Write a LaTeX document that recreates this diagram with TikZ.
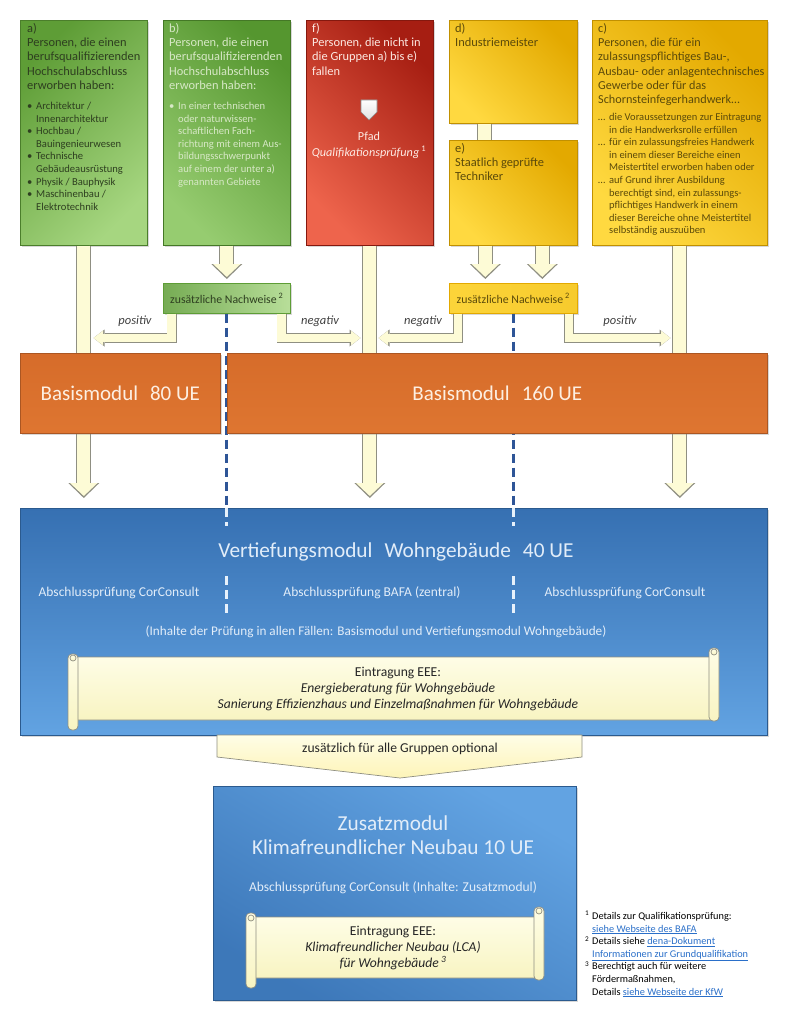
\documentclass[tikz,border=0pt]{standalone}
\usepackage{fontspec}
\setmainfont{Carlito}
\usepackage{tikz}
\usetikzlibrary{arrows.meta,positioning,calc,shadows}

\definecolor{grnA1}{HTML}{5E9D36}
\definecolor{grnA2}{HTML}{A6D680}
\definecolor{grnB1}{HTML}{55962F}
\definecolor{grnB2}{HTML}{96CC70}
\definecolor{redD}{HTML}{A61E12}
\definecolor{redL}{HTML}{EE644C}
\definecolor{yelD}{HTML}{E3A900}
\definecolor{yelL}{HTML}{FFD940}
\definecolor{orgD}{HTML}{D66C2A}
\definecolor{orgM}{HTML}{FF9C4C}
\definecolor{bluD}{HTML}{3670B2}
\definecolor{bluL}{HTML}{62A3E2}
\definecolor{cream}{HTML}{FDFBD6}
\definecolor{bargray}{HTML}{8F8F82}
\definecolor{sepblue}{HTML}{2E5597}
\definecolor{txtgrn}{HTML}{2E3F20}
\definecolor{txtpale}{HTML}{D7E8C6}
\definecolor{txtred}{HTML}{FDE9E2}
\definecolor{txtyel}{HTML}{5B4A0A}
\definecolor{txtorg}{HTML}{FDEFE2}
\definecolor{txtblu}{HTML}{E2EDF9}
\definecolor{lnkblue}{HTML}{2A6FC9}
\definecolor{scrollT}{HTML}{FEFDE6}
\definecolor{scrollB}{HTML}{F8F4C2}

\newcommand{\lbul}{\makebox[9pt][l]{\textbullet}}
\newcommand{\lind}{\hspace*{9pt}}
\newcommand{\ldot}{\makebox[11pt][l]{…}}
\newcommand{\lindc}{\hspace*{11pt}}
\newcommand{\fnm}[1]{\makebox[7pt][l]{\textsuperscript{#1}}}
\newcommand{\fni}{\hspace*{7pt}}
\newcommand{\lnk}[1]{{\color{lnkblue}\underline{#1}}}

\tikzset{
  topbox/.style={draw=#1, line width=0.6pt, inner sep=0pt, anchor=north west,
    drop shadow={shadow xshift=1.5pt, shadow yshift=-1.5pt, opacity=0.3}},
  greenA/.style={topbox=grnA1!80!black, top color=grnA2, bottom color=grnA1, shading angle=225},
  greenB/.style={topbox=grnB1!80!black, top color=grnB2, bottom color=grnB1, shading angle=135},
  redbox/.style={topbox=redD!80!black, top color=redL, bottom color=redD, shading angle=135},
  yelbox/.style={topbox=yelD!85!black, top color=yelL, bottom color=yelD, shading angle=135},
  orgbox/.style={topbox=orgD!80!black, top color=orgD, middle color=orgM, bottom color=orgD!80!orgM,
    text=txtorg, font=\fontsize{21}{25}\selectfont},
  blubox/.style={topbox=bluD!80!black, top color=bluD, bottom color=bluL},
  nwbox/.style={topbox=#1, font=\fontsize{11.8}{13}\selectfont},
  ttl/.style={inner sep=0pt, anchor=north west, align=left, font=\fontsize{12.4}{14.3}\selectfont},
  lst/.style={inner sep=0pt, anchor=north west, align=left, font=\fontsize{10.6}{12.6}\selectfont},
  lbl/.style={inner sep=0pt, text=black!75, font=\fontsize{12.5}{14}\selectfont\itshape},
  bltxt/.style={inner sep=0pt, text=txtblu, align=center, font=\fontsize{13.5}{16}\selectfont},
  scrolltxt/.style={inner sep=0pt, text=black!85, align=center, font=\fontsize{13.6}{16}\selectfont},
  scrollsty/.style={draw=bargray, line width=0.7pt, top color=scrollT, bottom color=scrollB},
  fn/.style={inner sep=0pt, anchor=north west, align=left, font=\fontsize{10.3}{12.6}\selectfont},
  sep/.style={draw=sepblue, line width=3pt, dash pattern=on 9pt off 5pt},
  sepin/.style={sep, draw=white!85!bluL},
  fatbar/.style={draw=cream, line width=13pt, preaction={draw=bargray, line width=15pt}},
  fatdown/.style={draw=cream, line width=13pt, shorten >=#1+2pt,
    -{Triangle[width=27.5pt,length=13pt,line width=0pt]},
    preaction={draw=bargray, line width=15pt, shorten >=#1,
      -{Triangle[width=31pt,length=15pt,line width=0pt]}}},
  fatside/.style={draw=cream, line width=8.5pt, shorten >=1.5pt,
    -{Triangle[width=14.5pt,length=9.5pt,line width=0pt]},
    preaction={draw=bargray, line width=10pt,
      -{Triangle[width=17pt,length=11pt,line width=0pt]}}},
}

\begin{document}
\begin{tikzpicture}[x=1pt, y=-1pt]
    \useasboundingbox (0,0) rectangle (789,1024);
    \fill[white] (0,0) rectangle (789,1024);

    % Groups a) to f)
    \node[greenA, minimum width=127pt, minimum height=225pt] (a) at (20,20) {};
    \node[greenB, minimum width=127pt, minimum height=225pt] (b) at (163,20) {};
    \node[redbox, minimum width=127pt, minimum height=225pt] (f) at (306,20) {};
    \node[yelbox, minimum width=128pt, minimum height=103pt] (d) at (449,20) {};
    \node[yelbox, minimum width=128pt, minimum height=105pt] (e) at (449,140) {};
    \node[yelbox, minimum width=175pt, minimum height=225pt] (c) at (592,20) {};

    % Additional proofs
    \node[nwbox=grnA1, left color=grnA1!85, right color=grnA2!80!white, text=txtgrn,
        minimum width=127pt, minimum height=30pt] (nwg) at (163,283) {zusätzliche Nachweise\,\textsuperscript{2}};
    \node[nwbox=yelD, left color=yelL!90!yelD, right color=yelL!70!yelD, text=txtyel,
        minimum width=128pt, minimum height=30pt] (nwy) at (449,283) {zusätzliche Nachweise\,\textsuperscript{2}};

    % Vertiefungsmodul and Zusatzmodul
    \node[blubox, minimum width=747pt, minimum height=227pt] (vm) at (20,508) {};
    \node[topbox=bluD!80!black, top color=bluL, bottom color=bluD!85!bluL, shading angle=-30,
        minimum width=363pt, minimum height=214pt] (zm) at (213,786) {};

    % Separators
    \draw[sep] (nwg.south) -- (nwg.south |- vm.north);
    \draw[sep] (nwy.south) -- (nwy.south |- vm.north);
    \draw[sepin] (nwg.south |- vm.north) -- ++(0,18);
    \draw[sepin] (nwy.south |- vm.north) -- ++(0,18);
    \draw[sepin] (nwg.south |- 0,576) -- (nwg.south |- 0,613);
    \draw[sepin] (nwy.south |- 0,576) -- (nwy.south |- 0,613);

    % Paths
    \draw[fatbar] ([xshift=-29pt]d.south) -- ([xshift=-29pt]e.north);
    \draw[fatdown=10pt] (a.south) -- (a.south |- vm.north);
    \draw[fatdown=10pt] (f.south) -- (f.south |- vm.north);
    \draw[fatdown=10pt] (c.south) -- (c.south |- vm.north);
    \draw[fatdown=4pt] (b.south) -- (nwg.north);
    \draw[fatdown=4pt] ([xshift=-28pt]e.south) -- ([xshift=-28pt]nwy.north);
    \draw[fatdown=4pt] ([xshift=29pt]e.south) -- ([xshift=29pt]nwy.north);

    \coordinate (posa) at (92,338);
    \coordinate (negf) at (362,338);
    \coordinate (negfr) at (377,338);
    \coordinate (posc) at (672,338);
    \draw[fatside] ([xshift=8.5pt]nwg.south west) |- (posa);
    \draw[fatside] ([xshift=-9pt]nwg.south east) |- (negf);
    \draw[fatside] ([xshift=9pt]nwy.south west) |- (negfr);
    \draw[fatside] ([xshift=-8.5pt]nwy.south east) |- (posc);
    \node[lbl] (lpa) at (135,321) {positiv};
    \node[lbl] (lnf) at (320,321) {negativ};
    \node[lbl] (lnfr) at (423,321) {negativ};
    \node[lbl] (lpc) at (620,321) {positiv};

    % Basismodule
    \node[orgbox, minimum width=200pt, minimum height=80pt] (bm80) at (20,353) {Basismodul\hspace{12pt}80 UE};
    \node[orgbox, minimum width=540pt, minimum height=80pt] (bm160) at (227,353) {Basismodul\hspace{12pt}160 UE};

    % Texts of the groups
    \node[ttl, text=txtgrn] (atxt) at (27,23) {a)\\Personen, die einen\\berufsqualifizierenden\\Hochschulabschluss\\erworben haben:};
    \node[lst, text=txtgrn] (alst) at (27,102) {\lbul Architektur /\\\lind Innenarchitektur\\\lbul Hochbau /\\\lind Bauingenieurwesen\\\lbul Technische\\\lind Gebäudeausrüstung\\\lbul Physik / Bauphysik\\\lbul Maschinenbau /\\\lind Elektrotechnik};
    \node[ttl, text=txtpale] (btxt) at (169,23) {b)\\Personen, die einen\\berufsqualifizierenden\\Hochschulabschluss\\erworben haben:};
    \node[lst, text=txtpale] (blst) at (169,102) {\lbul In einer technischen\\\lind oder naturwissen-\\\lind schaftlichen Fach-\\\lind richtung mit einem Aus-\\\lind bildungsschwerpunkt\\\lind auf einem der unter a)\\\lind genannten Gebiete};
    \node[ttl, text=txtred] (ftxt) at (312,23) {f)\\Personen, die nicht in\\die Gruppen a) bis e)\\fallen};
    \draw[draw=black!45, line width=0.6pt, top color=white, bottom color=black!12]
        (361,100) -- (377,100) -- (377,112) -- (369,120) -- (361,112) -- cycle;
    \node[inner sep=0pt, text=txtred, align=center, font=\fontsize{12.2}{16}\selectfont] (pfad) at (369,145)
        {Pfad\\\textit{Qualifikationsprüfung}\,\textsuperscript{1}};
    \node[ttl, text=txtyel] (dtxt) at (455,23) {d)\\Industriemeister};
    \node[ttl, text=txtyel] (etxt) at (455,143) {e)\\Staatlich geprüfte\\Techniker};
    \node[ttl, text=txtyel, font=\fontsize{12.2}{14.3}\selectfont] (ctxt) at (598,23) {c)\\Personen, die für ein\\zulassungspflichtiges Bau-,\\Ausbau- oder anlagentechnisches\\Gewerbe oder für das\\Schornsteinfegerhandwerk…};
    \node[lst, text=txtyel, font=\fontsize{10.5}{12.6}\selectfont] (clst) at (598,113) {\ldot die Voraussetzungen zur Eintragung\\\lindc in die Handwerksrolle erfüllen\\\ldot für ein zulassungsfreies Handwerk\\\lindc in einem dieser Bereiche einen\\\lindc Meistertitel erworben haben oder\\\ldot auf Grund ihrer Ausbildung\\\lindc berechtigt sind, ein zulassungs-\\\lindc pflichtiges Handwerk in einem\\\lindc dieser Bereiche ohne Meistertitel\\\lindc selbständig auszuüben};

    % Vertiefungsmodul texts
    \node[bltxt, font=\fontsize{21.3}{25}\selectfont] (vmt) at (396,552) {Vertiefungsmodul\hspace{12pt}Wohngebäude\hspace{12pt}40 UE};
    \node[bltxt] (ex1) at (119,593) {Abschlussprüfung CorConsult};
    \node[bltxt] (ex2) at (372,593) {Abschlussprüfung BAFA (zentral)};
    \node[bltxt] (ex3) at (625,593) {Abschlussprüfung CorConsult};
    \node[bltxt, font=\fontsize{13.2}{16}\selectfont] (inh) at (376,632) {(Inhalte der Prüfung in allen Fällen: Basismodul und Vertiefungsmodul Wohngebäude)};

    \draw[scrollsty, rounded corners=3pt] (73,657) rectangle (714,720);
    \draw[scrollsty, rounded corners=4pt] (68,654) rectangle (78,730);
    \draw[scrollsty, rounded corners=4pt] (709,648) rectangle (719,721);
    \draw[scrollsty] (73,658) circle (3);
    \draw[scrollsty] (714,652) circle (3);
    \node[scrolltxt] (eee1) at (398,689) {Eintragung EEE:\\\textit{Energieberatung für Wohngebäude}\\\textit{Sanierung Effizienzhaus und Einzelmaßnahmen für Wohngebäude}};

    % optional
    \draw[draw=bargray, line width=0.7pt, top color=scrollT, bottom color=cream!80!yelL]
        (217,735) -- (582,735) -- (582,757) -- (400,778) -- (217,757) -- cycle;
    \node[inner sep=0pt, text=black!85, font=\fontsize{13.6}{15}\selectfont] (opt) at (400,749) {zusätzlich für alle Gruppen optional};

    % Zusatzmodul texts
    \node[bltxt, font=\fontsize{21.3}{24}\selectfont] (zmt) at (393,835) {Zusatzmodul\\Klimafreundlicher Neubau 10 UE};
    \node[bltxt] (zex) at (393,888) {Abschlussprüfung CorConsult (Inhalte: Zusatzmodul)};

    \draw[scrollsty, rounded corners=3pt] (251,917) rectangle (539,978);
    \draw[scrollsty, rounded corners=4pt] (246,913) rectangle (256,988);
    \draw[scrollsty, rounded corners=4pt] (534,907) rectangle (544,980);
    \draw[scrollsty] (251,918) circle (3);
    \draw[scrollsty] (539,911) circle (3);
    \node[scrolltxt] (eee2) at (393,948) {Eintragung EEE:\\\textit{Klimafreundlicher Neubau (LCA)}\\\textit{für Wohngebäude}\,\textsuperscript{\itshape 3}};

    % Footnotes
    \node[fn] (fnote) at (585,911) {\fnm{1}Details zur Qualifikationsprüfung:\\\fni\lnk{siehe Webseite des BAFA}\\\fnm{2}Details siehe \lnk{dena-Dokument}\\\fni\lnk{Informationen zur Grundqualifikation}\\\fnm{3}Berechtigt auch für weitere\\\fni Fördermaßnahmen,\\\fni Details \lnk{siehe Webseite der KfW}};
\end{tikzpicture}
\end{document}
